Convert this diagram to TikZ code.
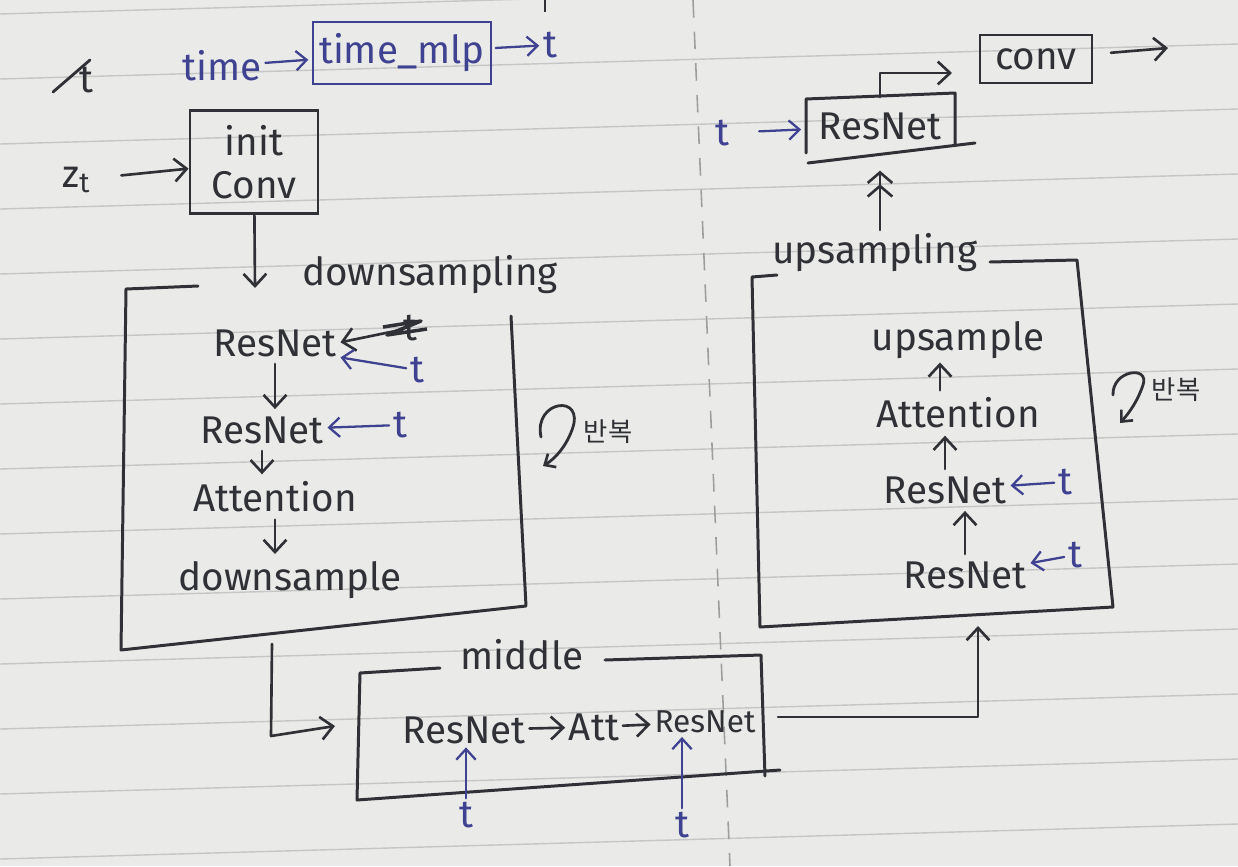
\documentclass[tikz,border=0pt]{standalone}
\usepackage{fontspec}
\setmainfont{Fira Sans}
\newfontfamily\krfont{Noto Sans CJK KR}
\usetikzlibrary{arrows.meta}
\definecolor{ink}{HTML}{2F3136}
\definecolor{blueink}{HTML}{3E4290}
\definecolor{paper}{HTML}{EAEAE8}
\definecolor{ruleline}{HTML}{C6C6C6}
\begin{document}
\begin{tikzpicture}[x=0.02cm,y=-0.02cm,
  every node/.style={font=\fontsize{22}{24.5}\selectfont, text=ink, inner sep=0pt},
  bl/.style={text=blueink},
  small/.style={font=\fontsize{18}{20}\selectfont},
  kr/.style={font=\fontsize{15}{17}\krfont},
  box/.style={draw=ink, line width=1.6pt, inner sep=0pt},
  bbox/.style={draw=blueink, line width=1.4pt, inner sep=0pt, text=blueink},
  con/.style={draw=ink, line width=1.5pt, line cap=round,
    -{Straight Barb[length=7pt,width=13pt,line width=1.5pt]}},
  dcon/.style={draw=ink, line width=1.5pt, line cap=round,
    -{Straight Barb[length=6pt,width=14pt,line width=1.5pt] Straight Barb[length=6pt,width=14pt,line width=1.5pt]}},
  bcon/.style={draw=blueink, line width=1.3pt, line cap=round, shorten <=2pt, shorten >=2pt,
    -{Straight Barb[length=6pt,width=11pt,line width=1.3pt]}},
  frame/.style={draw=ink, line width=1.7pt, line cap=round, line join=round},
]
% paper
\fill[paper] (0,0) rectangle (1238,866);
\useasboundingbox (0,0) rectangle (1238,866);
\foreach \k in {0,...,13}
  \draw[ruleline, line width=0.8pt] (0,{14+65*\k}) -- (1238,{14+65*\k-35});
\draw[ruleline!80!black, line width=0.9pt, dash pattern=on 10pt off 8pt] (693,0) -- (730,866);
\draw[ink, line width=1.2pt] (545,0) -- (545,12);

% crossed-out t
\node (tx) at (86,80) {t};
\draw[ink, line width=1.6pt, line cap=round] (53,92) -- (90,60);

% time embedding
\node[bl] (time) at (222,66) {time};
\node[bbox, minimum width=3.56cm, minimum height=1.24cm] (mlp) at (402,53) {time\_mlp};
\node[bl] (tout) at (550,45) {t};
\draw[bcon] (time) -- (mlp);
\draw[bcon] (mlp) -- (tout);

% input
\node (zt) at (76,180) {z\raisebox{-3pt}{\fontsize{16}{16}\selectfont t}};
\node[box, minimum width=2.56cm, minimum height=2.06cm, align=center] (init) at (254,162) {init\\Conv};
\draw[con, shorten <=18pt] (zt) -- (init);
\coordinate (dtop) at (255,288);
\draw[con] (init) -- (dtop);

% downsampling
\node (dlab) at (430,275) {downsampling};
\draw[frame] (198,286) -- (126,289) -- (121,650) -- (526,606) -- (511,316);
\node (d1) at (275,343) {ResNet};
\node (d2) at (262,430) {ResNet};
\node (d3) at (275,497) {Attention};
\node (d4) at (290,580) {downsample};
\draw[con, shorten <=4pt, shorten >=4pt] (d1.south) -- (d1.south |- d2.north);
\draw[con, shorten <=4pt, shorten >=4pt] (d2.south) -- (d2.south |- d3.north);
\draw[con, shorten <=4pt, shorten >=4pt] (d3.south) -- (d3.south |- d4.north);
\node (dx) at (410,328) {t};
\draw[con, shorten >=2pt] (dx) -- (d1.east);
\draw[ink, line width=2pt, line join=round] (383,327) -- (421,321) -- (387,335) -- (427,329);
\node[bl] (dt1) at (417,370) {t};
\draw[bcon] (dt1) -- (d1.south east);
\node[bl] (dt2) at (400,425) {t};
\draw[bcon] (dt2) -- (d2);

% repeat marks
\draw[ink, line width=1.6pt, line cap=round, -{Straight Barb[length=5pt,width=9pt,line width=1.5pt]}]
  (541,437) .. controls (533,400) and (586,393) .. (572,430) .. controls (566,446) and (556,458) .. (543,466);
\node[kr] (rep1) at (608,432) {반복};
\draw[ink, line width=1.6pt, line cap=round, -{Straight Barb[length=5pt,width=9pt,line width=1.5pt]}]
  (1113,395) .. controls (1112,370) and (1150,365) .. (1143,385) .. controls (1138,400) and (1130,412) .. (1120,423);
\node[kr] (rep2) at (1176,390) {반복};

% middle
\node (mlab) at (522,655) {middle};
\draw[frame] (440,668) -- (360,673) -- (357,800) -- (780,770);
\draw[frame] (605,660) -- (761,655) -- (765,776);
\node (m1) at (464,730) {ResNet};
\node (m2) at (594,727) {Att};
\node[small] (m3) at (705,722) {ResNet};
\draw[con, shorten <=2pt, shorten >=2pt] (m1) -- (m2);
\draw[con, shorten <=2pt, shorten >=2pt] (m2) -- (m3);
\node[bl] (mt1) at (466,815) {t};
\node[bl] (mt2) at (682,825) {t};
\draw[bcon] (mt1.north) -- (mt1.north |- m1.south);
\draw[bcon] (mt2.north) -- (mt2.north |- m3.south);
\coordinate (dbot) at (272,644);
\coordinate (dturn) at (271,736);
\coordinate (min) at (335,726);
\draw[con, line join=round] (dbot) -- (dturn) -- (min);
\coordinate (mout) at (778,717);
\coordinate (uin) at (978,626);
\draw[con, line join=round] (mout) -| (uin);

% upsampling
\node (ulab) at (875,253) {upsampling};
\draw[frame] (777,275) -- (752,277) -- (760,627) -- (1113,607) -- (1077,260) -- (990,262);
\node (u4) at (965,575) {ResNet};
\node (u3) at (945,490) {ResNet};
\node (u2) at (958,413) {Attention};
\node (u1) at (958,340) {upsample};
\draw[con, shorten <=4pt, shorten >=4pt] (u4.north) -- (u4.north |- u3.south);
\draw[con, shorten <=4pt, shorten >=4pt] (u3.north) -- (u3.north |- u2.south);
\draw[con, shorten <=4pt, shorten >=2pt] ([xshift=-0.36cm]u2.north) -- ([xshift=-0.36cm]u2.north |- u1.south);
\node[bl] (ut3) at (1065,482) {t};
\node[bl] (ut4) at (1075,555) {t};
\draw[bcon] (ut3) -- (u3);
\draw[bcon] (ut4) -- (u4);

% output
\node[minimum width=3.0cm, minimum height=1.14cm] (rtop) at (880,126) {ResNet};
\draw[frame] (806,153) -- (806,99) -- (955,93) -- (955,145);
\draw[frame] (808,163) -- (975,143);
\coordinate (ustart) at (880,230);
\draw[dcon, shorten >=9pt] (ustart) -- (rtop);
\node[bl] (rt) at (722,133) {t};
\draw[bcon, shorten <=17pt] (rt) -- (rtop);
\coordinate (skipend) at (952,73);
\draw[con, line join=round] (rtop.north) |- (skipend);
\node[box, minimum width=2.24cm, minimum height=0.96cm] (conv) at (1036,59) {conv};
\coordinate (out) at (1168,48);
\draw[con, shorten <=10pt] (conv) -- (out);
\end{tikzpicture}
\end{document}
